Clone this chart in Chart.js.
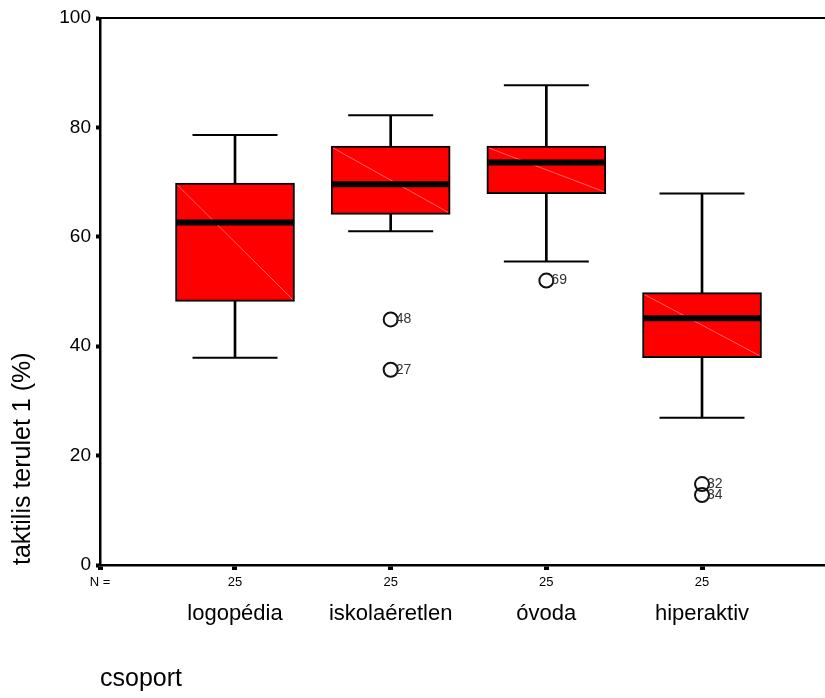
<!DOCTYPE html>
<html><head><meta charset="utf-8">
<script src="https://cdn.jsdelivr.net/npm/chart.js@4.4.1/dist/chart.umd.min.js"></script>
<style>html,body{margin:0;padding:0;background:#fff;}canvas{display:block;}</style>
</head><body>
<canvas id="c" width="825" height="698"></canvas>
<script>
// ---- data ----
const categories = ['logopédia', 'iskolaéretlen', 'óvoda', 'hiperaktiv'];
const nCounts = [25, 25, 25, 25];
const whiskerMin = [37.9, 61.0, 55.5, 26.9];
const q1 = [48.2, 64.1, 67.9, 37.9];
const median = [62.6, 69.6, 73.6, 45.1];
const q3 = [69.8, 76.6, 76.6, 49.8];
const whiskerMax = [78.6, 82.2, 87.7, 67.9];
const outlierGroup = [2, 2, 3, 4, 4];
const outlierValues = [44.9, 35.7, 52.0, 14.8, 12.8];
const outlierIds = ['48', '27', '69', '32', '34'];
const yTicks = [0, 20, 40, 60, 80, 100];

const FONT = 'Arial, "Liberation Sans", sans-serif';
const positions = categories.map((_, i) => i + 1);
const X_MIN = 0.1328, X_MAX = 4.79;

const boxData = positions.map((p, i) => ({x: p, y: [q1[i], q3[i]]}));
const whiskerData = positions.map((p, i) => ({x: p, y: [whiskerMin[i], whiskerMax[i]]}));
const capData = positions.flatMap((p, i) => [{x: p, y: whiskerMax[i]}, {x: p, y: whiskerMin[i]}]);
const medianData = positions.map((p, i) => ({x: p, y: median[i]}));
const outlierData = outlierGroup.map((g, i) => ({x: g, y: outlierValues[i]}));

const boxDecor = {
  id: 'boxDecor',
  afterDatasetDraw(chart, args) {
    const ds = chart.data.datasets[args.index];
    const ctx = chart.ctx;
    if (ds.role === 'box') {
      ctx.save();
      ctx.strokeStyle = 'rgba(255,170,170,0.6)';
      ctx.lineWidth = 1;
      args.meta.data.forEach(el => {
        const {x, y, base, width} = el.getProps(['x', 'y', 'base', 'width'], true);
        ctx.beginPath();
        ctx.moveTo(x - width / 2 + 2, y + 2);
        ctx.lineTo(x + width / 2 - 2, base - 2);
        ctx.stroke();
      });
      ctx.restore();
    }
    if (ds.role === 'outlier') {
      ctx.save();
      ctx.font = '14px ' + FONT;
      ctx.fillStyle = '#333';
      ctx.textBaseline = 'middle';
      ctx.textAlign = 'left';
      args.meta.data.forEach((el, i) => ctx.fillText(outlierIds[i], el.x + 5, el.y));
      ctx.restore();
    }
  }
};

new Chart(document.getElementById('c'), {
  type: 'bar',
  data: {
    datasets: [
      {role: 'whisker', type: 'bar', data: whiskerData, barThickness: 2, backgroundColor: '#000',
       borderWidth: 0, grouped: false, order: 4, xAxisID: 'x', yAxisID: 'y'},
      {role: 'box', type: 'bar', data: boxData, barThickness: 119, backgroundColor: '#ff0000',
       borderColor: '#000', borderWidth: 2, borderSkipped: false, grouped: false, order: 3, xAxisID: 'x', yAxisID: 'y'},
      {role: 'cap', type: 'line', data: capData, showLine: false, pointStyle: 'line', pointRadius: 42.5,
       pointBorderWidth: 2, pointBorderColor: '#000', order: 2, xAxisID: 'x', yAxisID: 'y'},
      {role: 'median', type: 'line', data: medianData, showLine: false, pointStyle: 'line', pointRadius: 58,
       pointBorderWidth: 6, pointBorderColor: '#000', order: 1, xAxisID: 'x', yAxisID: 'y'},
      {role: 'outlier', type: 'line', data: outlierData, showLine: false, pointStyle: 'circle', pointRadius: 7,
       pointBorderWidth: 2, pointBorderColor: '#111', pointBackgroundColor: 'rgba(255,255,255,0)', order: 0, xAxisID: 'x', yAxisID: 'y'}
    ]
  },
  options: {
    responsive: false,
    animation: false,
    devicePixelRatio: 1,
    layout: {padding: 0, autoPadding: false},
    plugins: {legend: {display: false}, tooltip: {enabled: false}},
    scales: {
      x: {
        type: 'linear', position: 'bottom', min: X_MIN, max: X_MAX, offset: false, weight: 0,
        afterBuildTicks: s => { s.ticks = [{value: X_MIN}].concat(positions.map(v => ({value: v}))); },
        afterFit: s => { s.height = 26; },
        ticks: {font: {family: FONT, size: 13}, color: '#000', padding: 5, maxRotation: 0, autoSkip: false,
          callback: v => v === X_MIN ? 'N =' : String(nCounts[Math.round(v) - 1])},
        grid: {offset: false, drawOnChartArea: false, drawTicks: true, tickLength: 5, tickWidth: 5, tickColor: '#000'},
        border: {display: true, color: '#000', width: 2.5}
      },
      xName: {
        type: 'linear', position: 'bottom', min: X_MIN, max: X_MAX, offset: false, weight: 1,
        afterBuildTicks: s => { s.ticks = positions.map(v => ({value: v})); },
        afterFit: s => { s.height = 107; },
        ticks: {font: {family: FONT, size: 22}, color: '#000', padding: 2, maxRotation: 0, autoSkip: false,
          callback: v => categories[Math.round(v) - 1]},
        grid: {display: false, offset: false},
        border: {display: false},
        title: {display: true, text: 'csoport', align: 'start', color: '#000',
          font: {family: FONT, size: 25}, padding: {top: 0, bottom: 4}}
      },
      xTop: {
        type: 'linear', position: 'top', min: X_MIN, max: X_MAX, offset: false,
        afterBuildTicks: s => { s.ticks = []; },
        afterFit: s => { s.height = 18; },
        ticks: {display: false},
        grid: {display: false, offset: false},
        border: {display: true, color: '#000', width: 2}
      },
      y: {
        type: 'linear', position: 'left', min: 0, max: 100,
        afterBuildTicks: s => { s.ticks = yTicks.map(v => ({value: v})); },
        afterFit: s => { s.width = 100; },
        ticks: {font: {family: FONT, size: 19}, color: '#000', padding: 5},
        grid: {drawOnChartArea: false, drawTicks: true, tickLength: 4, tickWidth: 4, tickColor: '#000'},
        border: {display: true, color: '#000', width: 2.5},
        title: {display: true, text: 'taktilis terulet 1 (%)', align: 'start', color: '#000',
          font: {family: FONT, size: 25}, padding: {top: 8, bottom: 0}}
      }
    }
  },
  plugins: [boxDecor]
});
</script>
</body></html>
